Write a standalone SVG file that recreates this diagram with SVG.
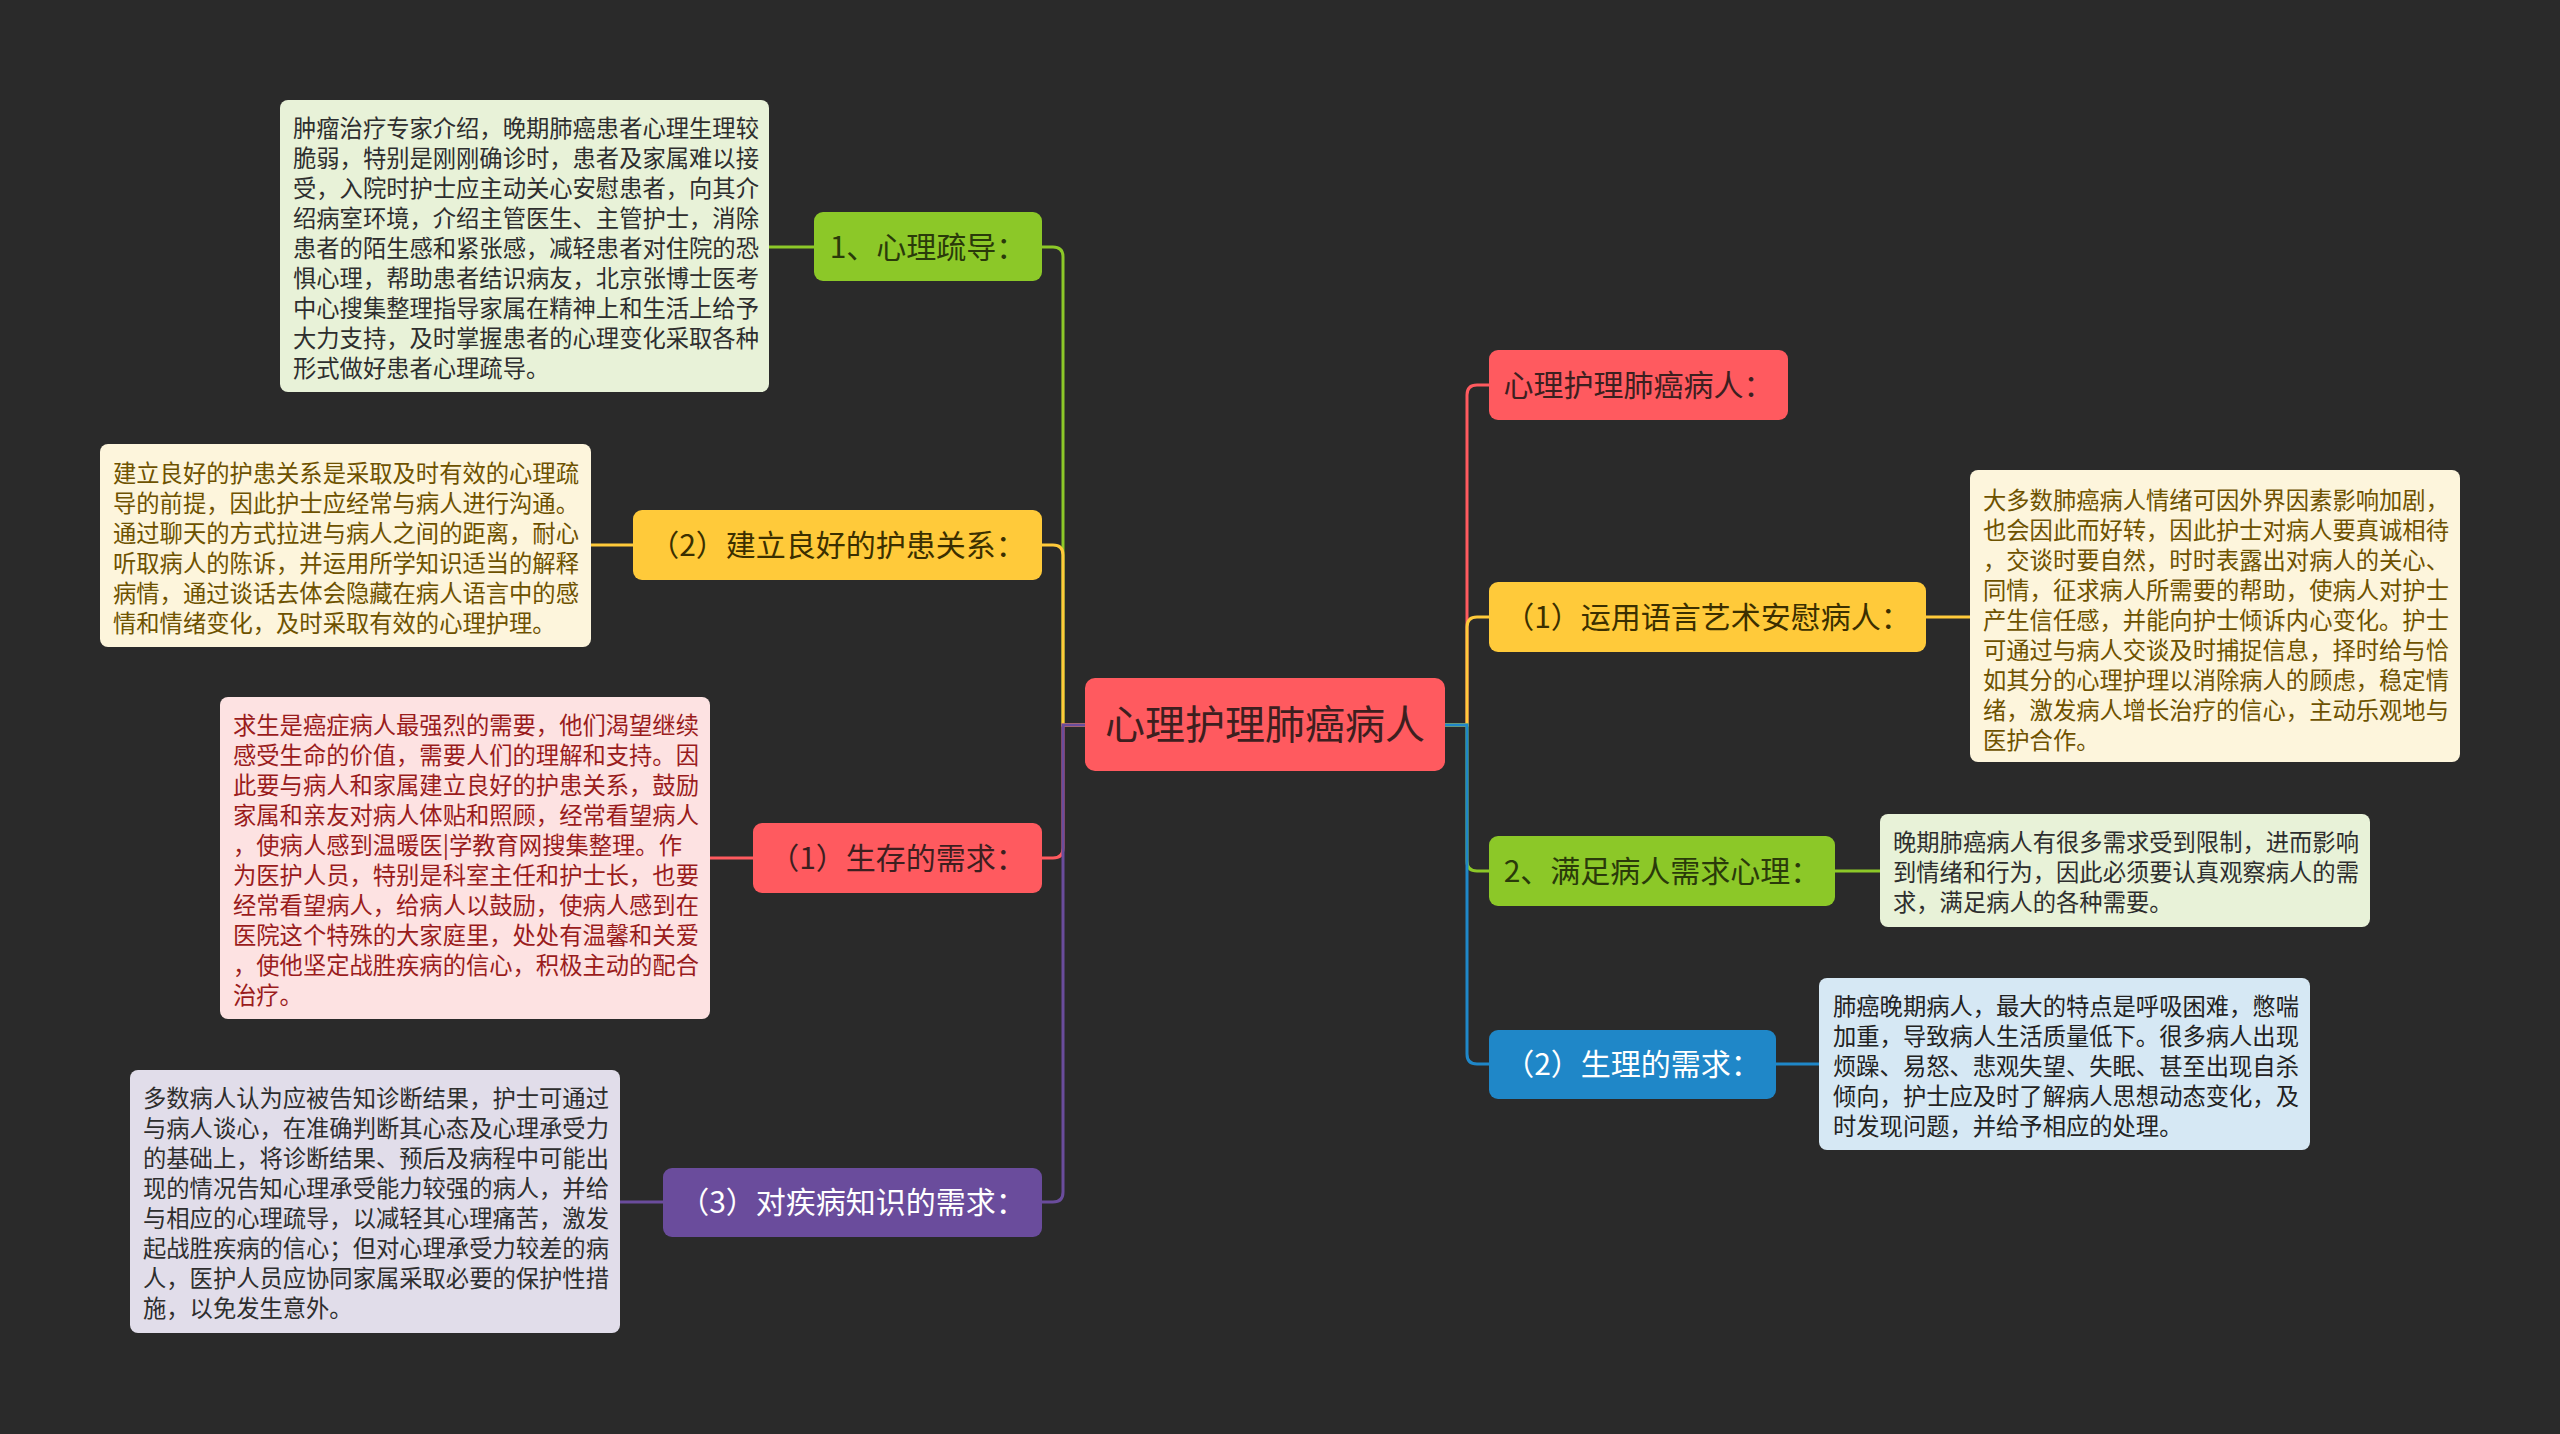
<svg xmlns="http://www.w3.org/2000/svg" width="2560" height="1434" viewBox="0 0 2560 1434">
<style>
text{font-family:"Noto Sans CJK SC","Noto Sans",sans-serif}
.br{font-size:30px;text-anchor:middle}
.lf{font-size:23.3px}
.con{fill:none;stroke-width:3}
</style>
<rect width="2560" height="1434" fill="#2a2a2a"/>
<g id="connectors">
<path class="con" stroke="#8cc828" d="M1085 725H1063V257Q1063 247 1053 247H1042"/>
<path class="con" stroke="#ffca3a" d="M1085 725H1063V555Q1063 545 1053 545H1042"/>
<path class="con" stroke="#ff5a5f" d="M1085 725H1063V848Q1063 858 1053 858H1042"/>
<path class="con" stroke="#6a4c9c" d="M1085 725H1063V1192Q1063 1202 1053 1202H1042"/>
<path class="con" stroke="#ff5a5f" d="M1445 725H1467V395Q1467 385 1477 385H1489"/>
<path class="con" stroke="#ffca3a" d="M1445 725H1467V627Q1467 617 1477 617H1489"/>
<path class="con" stroke="#8cc828" d="M1445 725H1467V861Q1467 871 1477 871H1489"/>
<path class="con" stroke="#1f87c8" d="M1445 725H1467V1054Q1467 1064 1477 1064H1489"/>
<path class="con" stroke="#8cc828" d="M814 247H769"/>
<path class="con" stroke="#ffca3a" d="M633 545H591"/>
<path class="con" stroke="#ff5a5f" d="M753 858H710"/>
<path class="con" stroke="#6a4c9c" d="M663 1202H620"/>
<path class="con" stroke="#ffca3a" d="M1926 617H1970"/>
<path class="con" stroke="#8cc828" d="M1835 871H1880"/>
<path class="con" stroke="#1f87c8" d="M1776 1064H1819"/>
</g>
<g id="root">
<rect x="1085" y="678" width="360" height="93" rx="10" fill="#ff5a5f"/>
<text x="1265" y="739" font-size="40" text-anchor="middle" fill="#3d1f1f">心理护理肺癌病人</text>
</g>
<g id="n-l1">
<rect x="814" y="212" width="228" height="69" rx="9" fill="#8cc828"/>
<text class="br" x="928" y="258" fill="#2a3a0a">1、心理疏导：</text>
</g>
<g id="n-l2">
<rect x="633" y="510" width="409" height="70" rx="9" fill="#ffca3a"/>
<text class="br" x="837.5" y="556" fill="#3b2f00">（2）建立良好的护患关系：</text>
</g>
<g id="n-l3">
<rect x="753" y="823" width="289" height="70" rx="9" fill="#ff5a5f"/>
<text class="br" x="897.5" y="869" fill="#3d1f1f">（1）生存的需求：</text>
</g>
<g id="n-l4">
<rect x="663" y="1168" width="379" height="69" rx="9" fill="#6a4c9c"/>
<text class="br" x="852.5" y="1213" fill="#ffffff">（3）对疾病知识的需求：</text>
</g>
<g id="n-r1">
<rect x="1489" y="350" width="299" height="70" rx="9" fill="#ff5a5f"/>
<text class="br" x="1638.5" y="396" fill="#3d1f1f">心理护理肺癌病人：</text>
</g>
<g id="n-r2">
<rect x="1489" y="582" width="437" height="70" rx="9" fill="#ffca3a"/>
<text class="br" x="1707.5" y="628" fill="#3b2f00">（1）运用语言艺术安慰病人：</text>
</g>
<g id="n-r3">
<rect x="1489" y="836" width="346" height="70" rx="9" fill="#8cc828"/>
<text class="br" x="1662" y="882" fill="#2a3a0a">2、满足病人需求心理：</text>
</g>
<g id="n-r4">
<rect x="1489" y="1030" width="287" height="69" rx="9" fill="#1f87c8"/>
<text class="br" x="1632.5" y="1075" fill="#ffffff">（2）生理的需求：</text>
</g>
<g id="leaf-l1">
<rect x="280" y="100" width="489" height="292" rx="8" fill="#e8f2d8"/>
<text class="lf" fill="#2e2e2e"><tspan x="293" y="137">肿瘤治疗专家介绍，晚期肺癌患者心理生理较</tspan><tspan x="293" y="167">脆弱，特别是刚刚确诊时，患者及家属难以接</tspan><tspan x="293" y="197">受，入院时护士应主动关心安慰患者，向其介</tspan><tspan x="293" y="227">绍病室环境，介绍主管医生、主管护士，消除</tspan><tspan x="293" y="257">患者的陌生感和紧张感，减轻患者对住院的恐</tspan><tspan x="293" y="287">惧心理，帮助患者结识病友，北京张博士医考</tspan><tspan x="293" y="317">中心搜集整理指导家属在精神上和生活上给予</tspan><tspan x="293" y="347">大力支持，及时掌握患者的心理变化采取各种</tspan><tspan x="293" y="377">形式做好患者心理疏导。</tspan></text>
</g>
<g id="leaf-l2">
<rect x="100" y="444" width="491" height="203" rx="8" fill="#fdf5dc"/>
<text class="lf" fill="#6e5200"><tspan x="113" y="482">建立良好的护患关系是采取及时有效的心理疏</tspan><tspan x="113" y="512">导的前提，因此护士应经常与病人进行沟通。</tspan><tspan x="113" y="542">通过聊天的方式拉进与病人之间的距离，耐心</tspan><tspan x="113" y="572">听取病人的陈诉，并运用所学知识适当的解释</tspan><tspan x="113" y="602">病情，通过谈话去体会隐藏在病人语言中的感</tspan><tspan x="113" y="632">情和情绪变化，及时采取有效的心理护理。</tspan></text>
</g>
<g id="leaf-l3">
<rect x="220" y="697" width="490" height="322" rx="8" fill="#fde2e2"/>
<text class="lf" fill="#9a1c1c"><tspan x="233" y="734">求生是癌症病人最强烈的需要，他们渴望继续</tspan><tspan x="233" y="764">感受生命的价值，需要人们的理解和支持。因</tspan><tspan x="233" y="794">此要与病人和家属建立良好的护患关系，鼓励</tspan><tspan x="233" y="824">家属和亲友对病人体贴和照顾，经常看望病人</tspan><tspan x="233" y="854">，使病人感到温暖医|学教育网搜集整理。作</tspan><tspan x="233" y="884">为医护人员，特别是科室主任和护士长，也要</tspan><tspan x="233" y="914">经常看望病人，给病人以鼓励，使病人感到在</tspan><tspan x="233" y="944">医院这个特殊的大家庭里，处处有温馨和关爱</tspan><tspan x="233" y="974">，使他坚定战胜疾病的信心，积极主动的配合</tspan><tspan x="233" y="1004">治疗。</tspan></text>
</g>
<g id="leaf-l4">
<rect x="130" y="1070" width="490" height="263" rx="8" fill="#e1ddea"/>
<text class="lf" fill="#2e2e2e"><tspan x="143" y="1107">多数病人认为应被告知诊断结果，护士可通过</tspan><tspan x="143" y="1137">与病人谈心，在准确判断其心态及心理承受力</tspan><tspan x="143" y="1167">的基础上，将诊断结果、预后及病程中可能出</tspan><tspan x="143" y="1197">现的情况告知心理承受能力较强的病人，并给</tspan><tspan x="143" y="1227">与相应的心理疏导，以减轻其心理痛苦，激发</tspan><tspan x="143" y="1257">起战胜疾病的信心；但对心理承受力较差的病</tspan><tspan x="143" y="1287">人，医护人员应协同家属采取必要的保护性措</tspan><tspan x="143" y="1317">施，以免发生意外。</tspan></text>
</g>
<g id="leaf-r2">
<rect x="1970" y="470" width="490" height="292" rx="8" fill="#fdf5dc"/>
<text class="lf" fill="#6e5200"><tspan x="1983" y="509">大多数肺癌病人情绪可因外界因素影响加剧，</tspan><tspan x="1983" y="539">也会因此而好转，因此护士对病人要真诚相待</tspan><tspan x="1983" y="569">，交谈时要自然，时时表露出对病人的关心、</tspan><tspan x="1983" y="599">同情，征求病人所需要的帮助，使病人对护士</tspan><tspan x="1983" y="629">产生信任感，并能向护士倾诉内心变化。护士</tspan><tspan x="1983" y="659">可通过与病人交谈及时捕捉信息，择时给与恰</tspan><tspan x="1983" y="689">如其分的心理护理以消除病人的顾虑，稳定情</tspan><tspan x="1983" y="719">绪，激发病人增长治疗的信心，主动乐观地与</tspan><tspan x="1983" y="749">医护合作。</tspan></text>
</g>
<g id="leaf-r3">
<rect x="1880" y="814" width="490" height="113" rx="8" fill="#e8f2d8"/>
<text class="lf" fill="#2e2e2e"><tspan x="1893" y="851">晚期肺癌病人有很多需求受到限制，进而影响</tspan><tspan x="1893" y="881">到情绪和行为，因此必须要认真观察病人的需</tspan><tspan x="1893" y="911">求，满足病人的各种需要。</tspan></text>
</g>
<g id="leaf-r4">
<rect x="1819" y="978" width="491" height="172" rx="8" fill="#d6e8f4"/>
<text class="lf" fill="#222222"><tspan x="1833" y="1015">肺癌晚期病人，最大的特点是呼吸困难，憋喘</tspan><tspan x="1833" y="1045">加重，导致病人生活质量低下。很多病人出现</tspan><tspan x="1833" y="1075">烦躁、易怒、悲观失望、失眠、甚至出现自杀</tspan><tspan x="1833" y="1105">倾向，护士应及时了解病人思想动态变化，及</tspan><tspan x="1833" y="1135">时发现问题，并给予相应的处理。</tspan></text>
</g>
</svg>
